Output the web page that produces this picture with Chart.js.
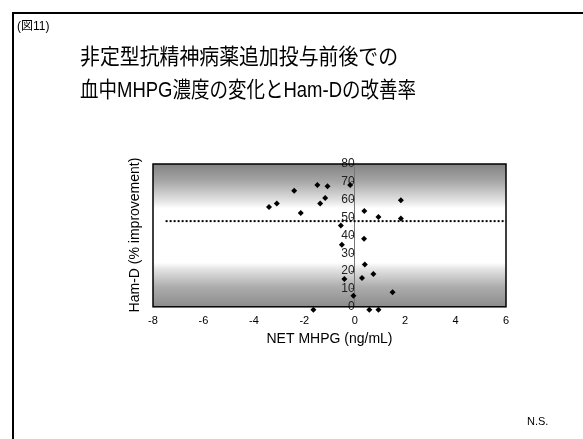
<!DOCTYPE html>
<html>
<head>
<meta charset="utf-8">
<script src="https://cdn.jsdelivr.net/npm/chart.js@4"></script>
<style>
  html, body { margin: 0; padding: 0; background: #fff; }
  #wrap { width: 583px; height: 439px; position: relative; }
</style>
</head>
<body>
<div id="wrap"><canvas id="scatterChart" width="583" height="439"></canvas></div>
<script>
// NET MHPG (ng/mL) vs Ham-D % improvement
const netMhpg = [-3.40, -3.09, -2.40, -2.14, -1.48, -1.37, -1.17, -1.08, -0.18, -0.55, -0.51, -0.41,
  -0.05, 0.38, 0.37, 0.40, 0.29, 0.74, 0.94, 1.83, 1.83, 1.50, -1.64, 0.58, 0.94];
const hamD = [55.9, 57.9, 65.0, 52.5, 68.2, 57.9, 61.0, 67.6, 68.2, 45.6, 34.8, 15.6,
  6.2, 53.7, 38.1, 23.7, 16.2, 18.4, 50.3, 59.7, 49.4, 8.1, -1.7, -1.7, -1.7];
const meanLineX = [-7.5, 6];
const meanLineY = [48, 48];
const xTicks = [-8, -6, -4, -2, 0, 2, 4, 6];
const yTicks = [0, 10, 20, 30, 40, 50, 60, 70, 80];

const points = netMhpg.map((x, i) => ({ x: x, y: hamD[i] }));
const meanLine = meanLineX.map((x, i) => ({ x: x, y: meanLineY[i] }));

// slide frame, titles, plot background and border
const slidePlugin = {
  id: 'slide',
  beforeDraw(chart) {
    const c = chart.ctx;
    const a = chart.chartArea;
    c.save();
    c.fillStyle = '#fff';
    c.fillRect(0, 0, chart.width, chart.height);
    // frame
    c.strokeStyle = '#000';
    c.lineWidth = 2;
    c.beginPath();
    c.moveTo(13, 445);
    c.lineTo(13, 13);
    c.lineTo(590, 13);
    c.stroke();
    // plot background gradient
    const g = c.createLinearGradient(0, a.top, 0, a.bottom);
    g.addColorStop(0, '#828282');
    g.addColorStop(0.12, '#a6a6a6');
    g.addColorStop(0.26, '#e4e4e4');
    g.addColorStop(0.31, '#ffffff');
    g.addColorStop(0.69, '#ffffff');
    g.addColorStop(0.74, '#e2e2e2');
    g.addColorStop(0.86, '#adadad');
    g.addColorStop(1, '#8c8c8c');
    c.fillStyle = g;
    c.fillRect(a.left, a.top, a.right - a.left, a.bottom - a.top);
    // texts
    c.fillStyle = '#000';
    c.textBaseline = 'middle';
    c.textAlign = 'left';
    c.font = '12px "Liberation Sans", "Noto Sans CJK JP", sans-serif';
    c.fillText('(図11)', 17, 27);
    c.font = '22px "Noto Sans CJK JP", sans-serif';
    c.fillText('非定型抗精神病薬追加投与前後での', 80, 56, 318);
    c.font = '22px "Liberation Sans", "Noto Sans CJK JP", sans-serif';
    c.fillText('血中MHPG濃度の変化とHam-Dの改善率', 80, 91, 336);
    c.font = '11px "Liberation Sans", sans-serif';
    c.fillText('N.S.', 527, 422);
    // axis titles
    c.textAlign = 'center';
    c.font = '14px "Liberation Sans", sans-serif';
    c.fillText('NET MHPG (ng/mL)', (a.left + a.right) / 2, 339);
    c.translate(135, 235);
    c.rotate(-Math.PI / 2);
    c.fillText('Ham-D (% improvement)', 0, 0);
    c.restore();
  },
  afterDatasetsDraw(chart) {
    const c = chart.ctx;
    const a = chart.chartArea;
    c.save();
    c.strokeStyle = '#000';
    c.lineWidth = 1.5;
    c.strokeRect(a.left, a.top, a.right - a.left, a.bottom - a.top);
    c.restore();
  }
};

new Chart(document.getElementById('scatterChart').getContext('2d'), {
  type: 'scatter',
  data: {
    datasets: [{
      label: 'Ham-D',
      data: points,
      pointStyle: 'rectRot',
      pointRadius: 3,
      pointBackgroundColor: '#000',
      pointBorderColor: '#000',
      borderWidth: 0,
      clip: false
    }, {
      type: 'line',
      label: 'mean',
      data: meanLine,
      borderColor: '#000',
      borderWidth: 2,
      borderDash: [2, 2],
      pointRadius: 0,
      fill: false
    }]
  },
  options: {
    responsive: false,
    animation: false,
    layout: { padding: { left: 153, right: 77, top: 164, bottom: 103 } },
    plugins: {
      legend: { display: false },
      tooltip: { enabled: false }
    },
    scales: {
      x: {
        type: 'linear',
        min: -8,
        max: 6,
        afterBuildTicks: (s) => { s.ticks = xTicks.map(v => ({ value: v })); },
        grid: { display: false, drawTicks: false },
        border: { display: false },
        ticks: { padding: 8, color: '#000', font: { family: 'Liberation Sans', size: 11 } }
      },
      y: {
        type: 'linear',
        position: { x: 0 },
        min: 0,
        max: 80,
        afterBuildTicks: (s) => { s.ticks = yTicks.map(v => ({ value: v })); },
        grid: { drawOnChartArea: false, drawTicks: true, tickLength: 3, color: '#555' },
        border: { display: true, color: '#777', width: 1, dash: [1, 1] },
        ticks: { autoSkip: false, padding: 1, color: '#222', font: { family: 'Liberation Sans', size: 12 } }
      }
    }
  },
  plugins: [slidePlugin]
});
</script>
</body>
</html>
